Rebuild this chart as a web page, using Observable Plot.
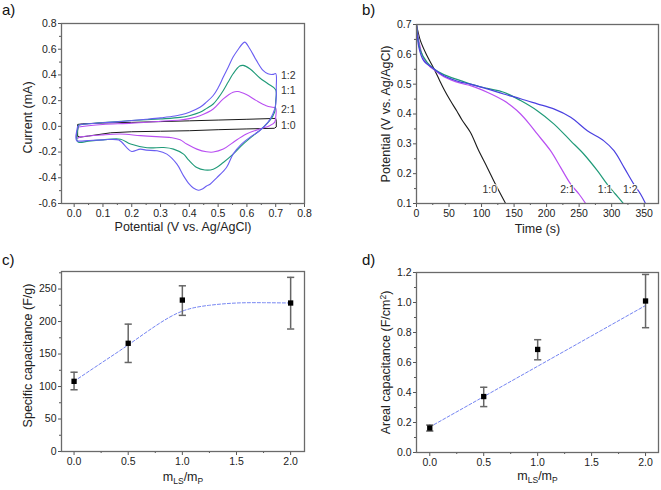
<!DOCTYPE html>
<html><head><meta charset="utf-8">
<script src="https://cdn.jsdelivr.net/npm/d3@7"></script>
<script src="https://cdn.jsdelivr.net/npm/@observablehq/plot@0.6"></script>
<style>
body{margin:0;background:#fff;font-family:"Liberation Sans",Arial,sans-serif;}
#fig{position:relative;width:661px;height:490px;overflow:hidden;background:#fff;}
.panel{position:absolute;}
.plabel{position:absolute;font-size:15px;line-height:15px;color:#111;}
</style></head><body>
<div id="fig"></div>
<script>
// ---------- Panel a: cyclic voltammograms [potential V, current mA] ----------
const cvLabels = ["1:2", "1:1", "2:1", "1:0"];
const cvLabelY = [0.396, 0.277, 0.131, 0.004];
const cv12 = [[0.012,0.0],[0.02,0.012],[0.05,0.02],[0.1,0.028],[0.15,0.035],[0.2,0.045],[0.25,0.055],[0.3,0.066],[0.35,0.08],[0.37,0.09],[0.40,0.11],[0.437,0.148],[0.46,0.19],[0.483,0.24],[0.50,0.3],[0.518,0.383],[0.535,0.46],[0.552,0.539],[0.57,0.60],[0.587,0.648],[0.593,0.655],[0.61,0.604],[0.633,0.513],[0.656,0.435],[0.673,0.409],[0.69,0.404],[0.70,0.41],[0.702,0.305],[0.70,0.17],[0.69,0.096],[0.673,0.031],[0.644,-0.034],[0.61,-0.086],[0.581,-0.138],[0.552,-0.216],[0.529,-0.32],[0.495,-0.40],[0.472,-0.45],[0.46,-0.464],[0.443,-0.49],[0.431,-0.497],[0.414,-0.48],[0.40,-0.45],[0.38,-0.385],[0.357,-0.294],[0.322,-0.216],[0.288,-0.19],[0.25,-0.185],[0.23,-0.177],[0.2,-0.195],[0.184,-0.169],[0.155,-0.107],[0.1,-0.105],[0.05,-0.11],[0.02,-0.115],[0.009,-0.112],[0.006,-0.09],[0.012,0.0]];
const cv11 = [[0.015,0.01],[0.05,0.02],[0.1,0.03],[0.2,0.045],[0.3,0.058],[0.368,0.07],[0.40,0.083],[0.437,0.109],[0.46,0.14],[0.483,0.174],[0.50,0.22],[0.518,0.279],[0.535,0.345],[0.552,0.409],[0.575,0.469],[0.587,0.474],[0.61,0.448],[0.644,0.378],[0.673,0.331],[0.70,0.285],[0.70,0.2],[0.696,0.11],[0.679,0.044],[0.65,-0.021],[0.621,-0.073],[0.587,-0.138],[0.552,-0.216],[0.518,-0.281],[0.483,-0.333],[0.454,-0.339],[0.426,-0.32],[0.397,-0.26],[0.38,-0.216],[0.345,-0.177],[0.311,-0.165],[0.253,-0.166],[0.196,-0.138],[0.161,-0.1],[0.1,-0.105],[0.05,-0.115],[0.017,-0.125],[0.01,-0.11],[0.015,0.01]];
const cv21 = [[0.015,-0.005],[0.05,0.005],[0.1,0.015],[0.2,0.025],[0.3,0.04],[0.368,0.049],[0.40,0.06],[0.437,0.083],[0.483,0.135],[0.518,0.214],[0.552,0.266],[0.569,0.271],[0.598,0.247],[0.633,0.2],[0.667,0.161],[0.69,0.148],[0.70,0.143],[0.70,0.07],[0.696,0.031],[0.679,0.005],[0.644,-0.021],[0.598,-0.06],[0.552,-0.125],[0.518,-0.177],[0.483,-0.2],[0.46,-0.198],[0.426,-0.177],[0.391,-0.138],[0.368,-0.105],[0.34,-0.088],[0.3,-0.082],[0.23,-0.072],[0.161,-0.06],[0.1,-0.066],[0.023,-0.082],[0.009,-0.092],[0.008,-0.06],[0.015,-0.005]];
const cv10 = [[0.012,-0.075],[0.012,0.015],[0.03,0.02],[0.1,0.026],[0.2,0.031],[0.3,0.037],[0.4,0.043],[0.5,0.049],[0.6,0.055],[0.69,0.061],[0.70,0.062],[0.702,0.04],[0.702,-0.005],[0.695,-0.015],[0.6,-0.02],[0.5,-0.026],[0.4,-0.034],[0.3,-0.038],[0.2,-0.042],[0.127,-0.05],[0.05,-0.075],[0.02,-0.084],[0.012,-0.075]];

// ---------- Panel b: discharge curves [time s, potential V] ----------
const gcdLabels = ["1:0", "2:1", "1:1", "1:2"];
const gcdLabelT = [112.6, 232, 290, 328.5];
const gcdLabelV = 0.145;
const gcd10 = [[0,0.70],[6,0.646],[16,0.596],[27,0.551],[35,0.515],[42,0.484],[52,0.445],[62,0.41],[70,0.38],[83,0.338],[95,0.28],[108.7,0.221],[122,0.162],[137,0.1]];
const gcd21 = [[0,0.7],[3.6,0.646],[11,0.585],[20,0.56],[27,0.548],[42,0.525],[67.7,0.503],[83,0.495],[108.7,0.473],[134,0.445],[147,0.425],[160,0.40],[173,0.368],[185.6,0.333],[206,0.277],[221.5,0.221],[237,0.165],[250,0.131],[260,0.1]];
const gcd11 = [[0,0.7],[6,0.613],[16.4,0.573],[27,0.551],[42,0.532],[67.7,0.512],[83,0.50],[108.7,0.486],[134,0.473],[160,0.445],[185.6,0.411],[211,0.367],[237,0.31],[257,0.266],[278,0.21],[293,0.165],[306,0.131],[318,0.1]];
const gcd12 = [[0,0.7],[3.6,0.624],[11,0.579],[27,0.551],[42,0.528],[67.7,0.507],[83,0.50],[108.7,0.484],[134,0.467],[160,0.451],[185.6,0.434],[211,0.417],[237,0.389],[262.6,0.344],[288,0.31],[303.5,0.277],[319,0.221],[334,0.165],[344.6,0.131],[352,0.1]];

// ---------- Panels c and d: capacitance vs mass ratio ----------
const ratio = [0, 0.5, 1.0, 2.0];
const specCap = [108, 166.5, 233, 228.5];
const specLow = [95, 137, 209.5, 188.5];
const specHigh = [122, 196, 255, 268];
const specFitX = [0, 0.25, 0.5, 0.75, 1.0, 1.25, 1.5, 1.75, 2.0];
const specFitY = [108, 136, 164, 193, 216, 225, 228.5, 229, 228.5];
const arealCap = [0.163, 0.373, 0.687, 1.01];
const arealLow = [0.143, 0.306, 0.618, 0.832];
const arealHigh = [0.183, 0.435, 0.752, 1.187];
const arealFitX = [0, 2.0];
const arealFitY = [0.17, 0.98];

// tick values
const aXTicks = [0,0.1,0.2,0.3,0.4,0.5,0.6,0.7,0.8];
const aXMinor = [0.05,0.15,0.25,0.35,0.45,0.55,0.65,0.75];
const aYTicks = [-0.6,-0.4,-0.2,0,0.2,0.4,0.6,0.8];
const aYMinor = [-0.5,-0.3,-0.1,0.1,0.3,0.5,0.7];
const bXTicks = [0,50,100,150,200,250,300,350];
const bXMinor = [25,75,125,175,225,275,325];
const bYTicks = [0.1,0.2,0.3,0.4,0.5,0.6,0.7];
const bYMinor = [0.15,0.25,0.35,0.45,0.55,0.65];
const rXTicks = [0,0.5,1.0,1.5,2.0];
const rXMinor = [0.25,0.75,1.25,1.75];
const cYTicks = [0,50,100,150,200,250];
const cYMinor = [25,75,125,175,225,275];
const dYTicks = [0,0.2,0.4,0.6,0.8,1.0,1.2];
const dYMinor = [0.1,0.3,0.5,0.7,0.9,1.1];

// ---------- styling ----------
const FONT = "Liberation Sans, Arial, sans-serif";
const C_BLUE_A = "#6a5ef2", C_BLUE_B = "#4a40e0", C_GREEN = "#1f9a78", C_PURPLE = "#b94ff2", C_BLACK = "#1a1a1a";
const f1 = d => d.toFixed(1);
const f0 = d => String(d);
const capSymbol = {draw(ctx, size) { const w = 3.6; ctx.moveTo(-w, 0); ctx.lineTo(w, 0); }};

function panel(o) {
  const svg = Plot.plot({
    width: o.width, height: o.height,
    marginLeft: o.m[0], marginRight: o.m[1], marginTop: o.m[2], marginBottom: o.m[3],
    style: {fontFamily: FONT, fontSize: "10.5px", color: "#222", background: "transparent", overflow: "visible"},
    x: {domain: o.x}, y: {domain: o.y},
    marks: [
      ...o.marks,
      Plot.axisX(o.xTicks, {tickSize: 4, tickPadding: 2, tickFormat: o.xFmt, label: null, stroke: "#555", fill: "#222"}),
      Plot.axisX(o.xMinor, {tickSize: 2, tickFormat: () => "", label: null, stroke: "#555"}),
      Plot.axisY(o.yTicks, {tickSize: 3, tickPadding: 2, tickFormat: o.yFmt, label: null, stroke: "#555", fill: "#222"}),
      Plot.axisY(o.yMinor, {tickSize: 2, tickFormat: () => "", label: null, stroke: "#555"}),
      Plot.frame({stroke: "#6a6a6a", strokeWidth: 1.3}),
      Plot.text([o.xLabel], {text: d => d, frameAnchor: "bottom", textAnchor: "middle", dy: o.xLabelDy, fontSize: 12.5, fill: "#222"}),
      Plot.text([o.yLabel], {text: d => d, frameAnchor: "left", textAnchor: "middle", lineAnchor: "middle", rotate: -90, dx: o.yLabelDx, dy: o.yLabelDy || 0, fontSize: 12.5, fill: "#222"})
    ]
  });
  const div = document.createElement("div");
  div.className = "panel";
  div.style.left = o.left + "px"; div.style.top = o.top + "px";
  div.appendChild(svg);
  document.getElementById("fig").appendChild(div);
  return svg;
}

function richText(svg, key, parts) {
  svg.querySelectorAll("text").forEach(t => {
    if (t.textContent === key) {
      while (t.firstChild) t.removeChild(t.firstChild);
      let shift = 0;
      for (const [s, type] of parts) {
        const ts = document.createElementNS("http://www.w3.org/2000/svg", "tspan");
        ts.textContent = s;
        const target = type === "sub" ? 3 : type === "sup" ? -4 : 0;
        ts.setAttribute("dy", target - shift); shift = target;
        if (type) ts.setAttribute("font-size", "8.5");
        t.appendChild(ts);
      }
    }
  });
}

const px = d => d[0], py = d => d[1];

// Panel a
panel({
  left: 0, top: 0, width: 330, height: 245, m: [61, 26, 23, 42],
  x: [-0.044, 0.8], y: [-0.6, 0.8],
  xTicks: aXTicks, xMinor: aXMinor, yTicks: aYTicks, yMinor: aYMinor, xFmt: f1, yFmt: f1,
  xLabel: "Potential (V vs. Ag/AgCl)", xLabelDy: 27,
  yLabel: "Current (mA)", yLabelDx: -34, yLabelDy: 4,
  marks: [
    Plot.line(cv10, {x: px, y: py, stroke: C_BLACK, strokeWidth: 1, curve: "linear"}),
    Plot.line(cv21, {x: px, y: py, stroke: C_PURPLE, strokeWidth: 1.1, curve: "catmull-rom"}),
    Plot.line(cv11, {x: px, y: py, stroke: C_GREEN, strokeWidth: 1.1, curve: "catmull-rom"}),
    Plot.line(cv12, {x: px, y: py, stroke: C_BLUE_A, strokeWidth: 1.1, curve: "catmull-rom"}),
    Plot.text(cvLabels, {x: () => 0.718, y: (d, i) => cvLabelY[i], text: d => d, textAnchor: "start", fontSize: 10.5, fill: "#333"})
  ]
});

// Panel b
panel({
  left: 330, top: 0, width: 331, height: 245, m: [86, 3, 24, 42],
  x: [0, 372], y: [0.1, 0.7],
  xTicks: bXTicks, xMinor: bXMinor, yTicks: bYTicks, yMinor: bYMinor, xFmt: f0, yFmt: f1,
  xLabel: "Time (s)", xLabelDy: 29,
  yLabel: "Potential (V vs. Ag/AgCl)", yLabelDx: -31, yLabelDy: 0,
  marks: [
    Plot.line(gcd10, {x: px, y: py, stroke: C_BLACK, strokeWidth: 1.1, curve: "catmull-rom", clip: true}),
    Plot.line(gcd21, {x: px, y: py, stroke: C_PURPLE, strokeWidth: 1.2, curve: "catmull-rom", clip: true}),
    Plot.line(gcd11, {x: px, y: py, stroke: C_GREEN, strokeWidth: 1.2, curve: "catmull-rom", clip: true}),
    Plot.line(gcd12, {x: px, y: py, stroke: C_BLUE_B, strokeWidth: 1.2, curve: "catmull-rom", clip: true}),
    Plot.text(gcdLabels, {x: (d, i) => gcdLabelT[i], y: () => gcdLabelV, text: d => d, fontSize: 10.5, fill: "#333", stroke: "white", strokeWidth: 2})
  ]
});

function capMarks(vals, low, high, fx, fy) {
  const idx = d3.range(ratio.length);
  const fidx = d3.range(fx.length);
  return [
    Plot.line(fidx, {x: i => fx[i], y: i => fy[i], stroke: "#7484f2", strokeWidth: 1, strokeDasharray: "3,2", curve: "natural"}),
    Plot.ruleX(idx, {x: i => ratio[i], y1: i => low[i], y2: i => high[i], stroke: "#666", strokeWidth: 1.5}),
    Plot.dot(idx, {x: i => ratio[i], y: i => low[i], symbol: capSymbol, stroke: "#666", strokeWidth: 1.5, r: 3}),
    Plot.dot(idx, {x: i => ratio[i], y: i => high[i], symbol: capSymbol, stroke: "#666", strokeWidth: 1.5, r: 3}),
    Plot.dot(idx, {x: i => ratio[i], y: i => vals[i], symbol: "square", fill: "#000", r: 3})
  ];
}

// Panel c
const svgC = panel({
  left: 0, top: 245, width: 330, height: 245, m: [61, 26, 26, 39],
  x: [-0.116, 2.128], y: [0, 277],
  xTicks: rXTicks, xMinor: rXMinor, yTicks: cYTicks, yMinor: cYMinor, xFmt: f1, yFmt: f0,
  xLabel: "mLS/mP", xLabelDy: 29,
  yLabel: "Specific capacitance (F/g)", yLabelDx: -34, yLabelDy: -6,
  marks: capMarks(specCap, specLow, specHigh, specFitX, specFitY)
});
richText(svgC, "mLS/mP", [["m"], ["LS", "sub"], ["/m"], ["P", "sub"]]);

// Panel d
const svgD = panel({
  left: 330, top: 245, width: 331, height: 245, m: [86, 3, 27, 38],
  x: [-0.123, 2.12], y: [0, 1.2],
  xTicks: rXTicks, xMinor: rXMinor, yTicks: dYTicks, yMinor: dYMinor, xFmt: f1, yFmt: f1,
  xLabel: "mLS/mP", xLabelDy: 27,
  yLabel: "Areal capacitance (F/cm2)", yLabelDx: -31, yLabelDy: 0,
  marks: capMarks(arealCap, arealLow, arealHigh, arealFitX, arealFitY)
});
richText(svgD, "mLS/mP", [["m"], ["LS", "sub"], ["/m"], ["P", "sub"]]);
richText(svgD, "Areal capacitance (F/cm2)", [["Areal capacitance (F/cm"], ["2", "sup"], [")"]]);

// panel letters
[["a)", 2, 2], ["b)", 362, 2], ["c)", 2, 252], ["d)", 362, 252]].forEach(([t, l, tp]) => {
  const d = document.createElement("div");
  d.className = "plabel"; d.textContent = t;
  d.style.left = l + "px"; d.style.top = tp + "px";
  document.getElementById("fig").appendChild(d);
});
</script>
</body></html>
